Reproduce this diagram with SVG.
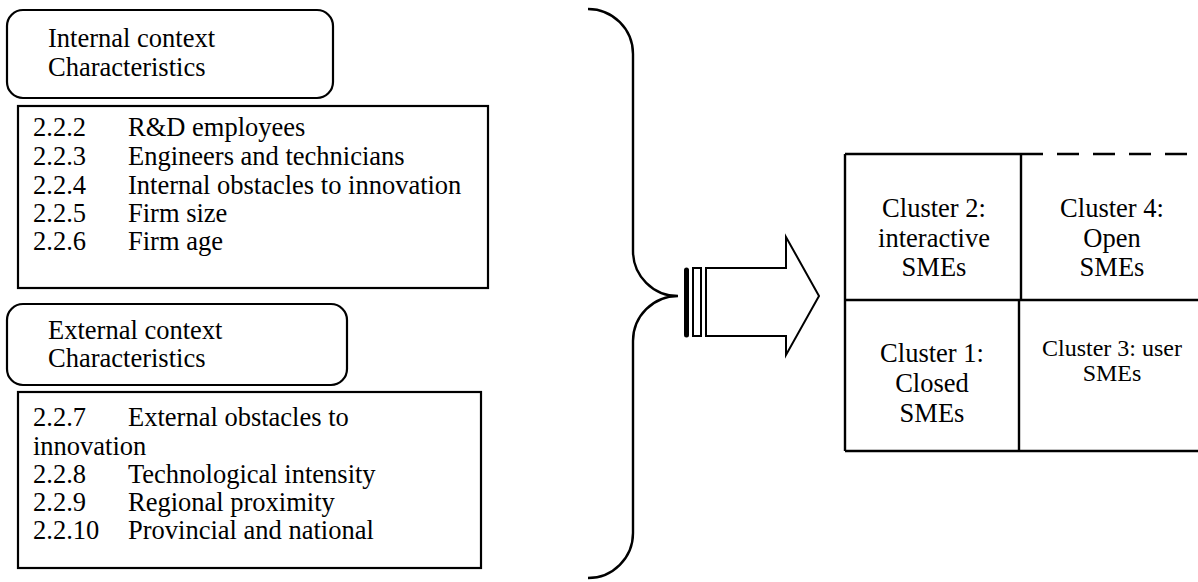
<svg xmlns="http://www.w3.org/2000/svg" width="1198" height="582" viewBox="0 0 1198 582">
<style>
  text { font-family: "Liberation Serif", "Times New Roman", serif; font-size: 26.5px; fill: #000; }
  .c { text-anchor: middle; }
  .sm { font-size: 24px; }
  .box { fill: #fff; stroke: #000; stroke-width: 2.2; }
  .line { fill: none; stroke: #000; stroke-width: 2.4; }
</style>
<rect width="1198" height="582" fill="#fff"/>

<g id="internal-header">
  <rect class="box" x="7" y="10" width="326" height="88" rx="16"/>
  <text x="48" y="47">Internal context</text>
  <text x="48" y="76">Characteristics</text>
</g>

<g id="internal-items">
  <rect class="box" x="18" y="106" width="470" height="182"/>
  <text x="33" y="136">2.2.2</text><text x="128" y="136">R&amp;D employees</text>
  <text x="33" y="165">2.2.3</text><text x="128" y="165">Engineers and technicians</text>
  <text x="33" y="194">2.2.4</text><text x="128" y="194">Internal obstacles to innovation</text>
  <text x="33" y="222">2.2.5</text><text x="128" y="222">Firm size</text>
  <text x="33" y="250">2.2.6</text><text x="128" y="250">Firm age</text>
</g>

<g id="external-header">
  <rect class="box" x="7" y="304" width="340" height="81" rx="16"/>
  <text x="48" y="339">External context</text>
  <text x="48" y="367">Characteristics</text>
</g>

<g id="external-items">
  <rect class="box" x="18" y="392" width="463" height="176"/>
  <text x="33" y="426">2.2.7</text><text x="128" y="426">External obstacles to</text>
  <text x="33" y="455">innovation</text>
  <text x="33" y="483">2.2.8</text><text x="128" y="483">Technological intensity</text>
  <text x="33" y="511">2.2.9</text><text x="128" y="511">Regional proximity</text>
  <text x="33" y="539">2.2.10</text><text x="128" y="539">Provincial and national</text>
</g>

<g id="connectors">
  <path id="brace" class="line" stroke-width="2.2" d="M588,9 A45,45 0 0 1 633,54 L633,251 A45,45 0 0 0 678,296 A45,45 0 0 0 633,341 L633,533 A45,45 0 0 1 588,578"/>
  <g id="arrow">
    <line x1="686.5" y1="270" x2="686.5" y2="335" stroke="#000" stroke-width="5" stroke-linecap="round"/>
    <rect x="693" y="268" width="8" height="68" fill="#fff" stroke="#000" stroke-width="2"/>
    <polygon points="706,268 786,268 786,237 819,296 786,355 786,336 706,336" fill="#fff" stroke="#000" stroke-width="2" stroke-linejoin="miter"/>
  </g>
</g>

<g id="cluster-grid">
  <line class="line" x1="845" y1="154" x2="1021" y2="154"/>
  <line class="line" x1="1021" y1="154" x2="1198" y2="154" stroke-dasharray="22,14"/>
  <line class="line" x1="845" y1="154" x2="845" y2="451"/>
  <line class="line" x1="845" y1="300" x2="1198" y2="300"/>
  <line class="line" x1="845" y1="451" x2="1198" y2="451"/>
  <line class="line" x1="1021" y1="154" x2="1021" y2="300"/>
  <line class="line" x1="1019" y1="300" x2="1019" y2="451" stroke-width="3.6"/>
</g>

<g id="cluster2">
  <text class="c" x="934" y="217">Cluster 2:</text>
  <text class="c" x="934" y="247">interactive</text>
  <text class="c" x="934" y="276">SMEs</text>
</g>
<g id="cluster4">
  <text class="c" x="1112" y="217">Cluster 4:</text>
  <text class="c" x="1112" y="247">Open</text>
  <text class="c" x="1112" y="276">SMEs</text>
</g>
<g id="cluster1">
  <text class="c" x="932" y="362">Cluster 1:</text>
  <text class="c" x="932" y="392">Closed</text>
  <text class="c" x="932" y="422">SMEs</text>
</g>
<g id="cluster3">
  <text class="c sm" x="1112" y="356">Cluster 3: user</text>
  <text class="c sm" x="1112" y="381">SMEs</text>
</g>
</svg>
